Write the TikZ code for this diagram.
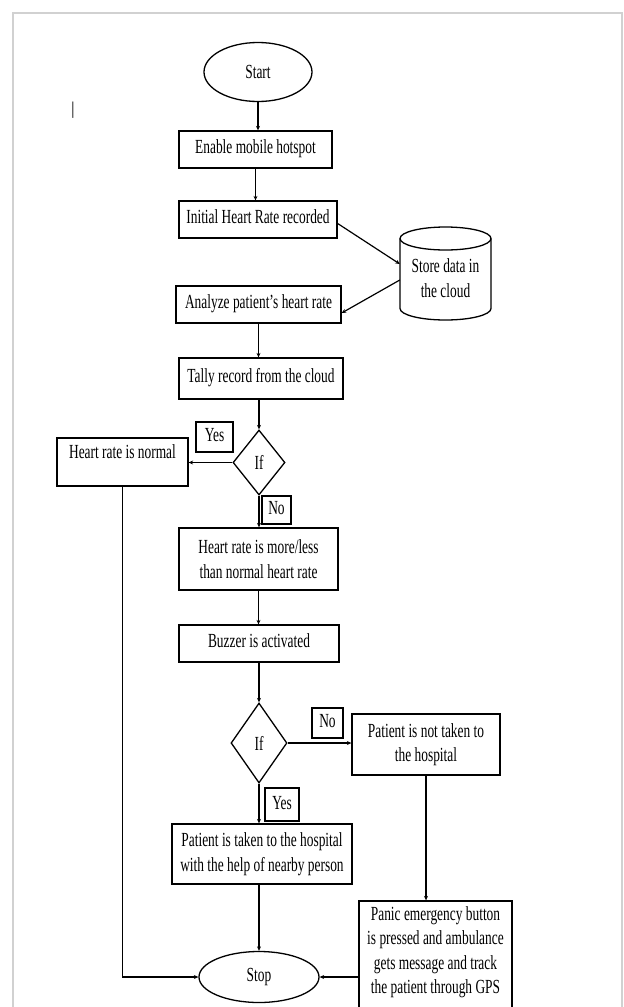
\documentclass[tikz,border=0pt]{standalone}
\usepackage{fontspec}
\setmainfont{Liberation Serif}[FakeStretch=0.67]
\usetikzlibrary{shapes.geometric,arrows.meta,calc}
\begin{document}
\begin{tikzpicture}[x=1pt,y=-1pt,
  every node/.style={font=\fontsize{20}{24.5}\selectfont, inner sep=0pt},
  box/.style={draw, line width=1.3pt, text height=12pt, text depth=5pt},
  mbox/.style={draw, line width=1.3pt, align=center},
  lbl/.style={draw, line width=1.3pt, text height=12pt, text depth=3pt},
  term/.style={ellipse, draw, line width=1.3pt},
  dec/.style={diamond, draw, line width=1.3pt},
  conn/.style={line width=1.2pt, -{Stealth[length=4.5pt,width=4pt]}},
  frame/.style={black!18, line width=1.6pt}]

\useasboundingbox (0,0) rectangle (624,1007);
\draw[frame] (13,1030) -- (13,13) -- (622,13) -- (622,1030);

% nodes
\node[term, minimum width=108pt, minimum height=59pt] (start) at (258,72) {Start};
\node (bar) at (73,110) {\fontsize{18}{18}\selectfont\bfseries |};
\node[box, minimum width=153pt, minimum height=37pt] (enable) at (255.5,149.5) {Enable mobile hotspot};
\node[box, minimum width=158pt, minimum height=37pt] (initial) at (258,219.5) {Initial Heart Rate recorded};
\node[align=center, minimum width=91pt, minimum height=93pt] (store) at (445.5,278) {Store data in\\the cloud};
\draw[line width=1.3pt] (445.5,238.5) ellipse [x radius=45.5, y radius=11.5];
\draw[line width=1.3pt] (400,238.5) -- (400,308.5) arc[start angle=180, end angle=0, x radius=45.5, y radius=11.5] -- (491,238.5);
\node[box, minimum width=165pt, minimum height=37pt] (analyze) at (258.5,304.5) {Analyze patient’s heart rate};
\node[box, minimum width=164pt, minimum height=41pt] (tally) at (261,378.5) {Tally record from the cloud};
\node[dec, minimum width=52pt, minimum height=65pt] (if1) at (259,462.5) {If};
\node[draw, line width=1.3pt, minimum width=131pt, minimum height=48pt, text height=12pt, text depth=20pt] (normal) at (122.5,462) {Heart rate is normal};
\node[lbl, minimum width=37pt, minimum height=30pt] (yes1) at (214.5,437) {Yes};
\node[lbl, minimum width=29pt, minimum height=28pt] (no1) at (276.5,510) {No};
\node[mbox, minimum width=159pt, minimum height=62pt] (more) at (258.5,559) {Heart rate is more/less\\than normal heart rate};
\node[box, minimum width=160pt, minimum height=37pt] (buzz) at (259,643.5) {Buzzer is activated};
\node[dec, minimum width=56pt, minimum height=80pt] (if2) at (259,743) {If};
\node[lbl, minimum width=31pt, minimum height=30pt] (no2) at (327.5,723) {No};
\node[mbox, minimum width=148pt, minimum height=61pt] (nottaken) at (426,744.5) {Patient is not taken to\\the hospital};
\node[lbl, minimum width=34pt, minimum height=33pt] (yes2) at (282,804.5) {Yes};
\node[mbox, minimum width=180pt, minimum height=60pt] (taken) at (262,854) {Patient is taken to the hospital\\with the help of nearby person};
\node[draw, line width=1.3pt, minimum width=153pt, minimum height=114pt] (panic) at (435.5,958) {};
\node[align=center] (panictext) at (435.5,952) {Panic emergency button\\is pressed and ambulance\\gets message and track\\the patient through GPS};
\node[term, minimum width=120pt, minimum height=51pt] (stop) at (259,977) {Stop};

% connectors
\draw[conn] (start.south) -- (start.south |- enable.north);
\draw[conn] (enable.south) -- (enable.south |- initial.north);
\draw[conn] ($(initial.east)+(0,4)$) -- ($(store.west)+(0,-14)$);
\draw[conn] ($(store.west)+(0,2)$) -- ($(analyze.east)+(0,8.5)$);
\draw[conn] (analyze.south) -- (analyze.south |- tally.north);
\draw[conn] (if1.north |- tally.south) -- (if1.north);
\draw[conn] (if1.west) -- (if1.west -| normal.east);
\draw[conn] (if1.south) -- (if1.south |- more.north);
\draw[conn] (more.south) -- (more.south |- buzz.north);
\draw[conn] (if2.north |- buzz.south) -- (if2.north);
\draw[conn] (if2.east) -- (if2.east -| nottaken.west);
\draw[conn] (if2.south) -- (if2.south |- taken.north);
\draw[conn] (stop.north |- taken.south) -- (stop.north);
\draw[conn] (nottaken.south) -- (nottaken.south |- panic.north);
\draw[conn] (stop.east -| panic.west) -- (stop.east);
\draw[conn] (normal.south) |- (stop.west);
\end{tikzpicture}
\end{document}
